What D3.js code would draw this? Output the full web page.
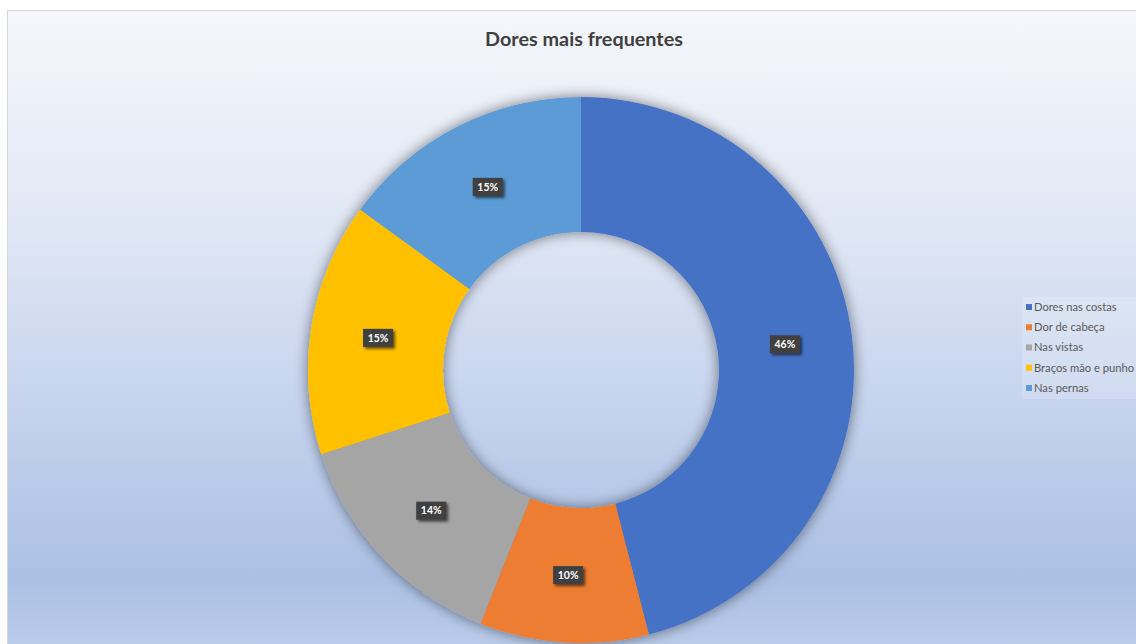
<!DOCTYPE html>
<html>
<head>
<meta charset="utf-8">
<script src="https://cdn.jsdelivr.net/npm/d3@7"></script>
<style>
  html, body { margin: 0; padding: 0; background: #ffffff; }
  svg { display: block; }
</style>
</head>
<body>
<svg id="chart" width="1136" height="644"></svg>
<script>
// Pain categories and their shares (percent)
const categories = ["Dores nas costas", "Dor de cabeça", "Nas vistas", "Braços mão e punho", "Nas pernas"];
const values = [46, 10, 14, 15, 15];
const colors = ["#4472C4", "#ED7D31", "#A5A5A5", "#FFC000", "#5B9BD5"];
const title = "Dores mais frequentes";

const W = 1136, H = 644;
const svg = d3.select("#chart");
const defs = svg.append("defs");

// Chart area background gradient
const grad = defs.append("linearGradient")
  .attr("id", "bg").attr("x1", 0).attr("y1", 0).attr("x2", 0).attr("y2", 1);
[[0, "#f5f7fc"], [0.35, "#dfe6f4"], [0.6, "#c6d4ee"], [0.88, "#abc0e4"], [1, "#bccdeb"]]
  .forEach(([o, c]) => grad.append("stop").attr("offset", o).attr("stop-color", c));

// Soft shadow around the ring
const shadow = defs.append("filter").attr("id", "ringShadow")
  .attr("x", "-20%").attr("y", "-20%").attr("width", "140%").attr("height", "140%");
shadow.append("feGaussianBlur").attr("in", "SourceAlpha").attr("stdDeviation", 7).attr("result", "b");
shadow.append("feOffset").attr("in", "b").attr("dx", 0).attr("dy", 0).attr("result", "o");
shadow.append("feComponentTransfer").attr("in", "o").attr("result", "s")
  .append("feFuncA").attr("type", "linear").attr("slope", 0.5);
const sm = shadow.append("feMerge");
sm.append("feMergeNode").attr("in", "s");
sm.append("feMergeNode").attr("in", "SourceGraphic");

// Shadow for the value label boxes
const lblShadow = defs.append("filter").attr("id", "lblShadow")
  .attr("x", "-50%").attr("y", "-50%").attr("width", "200%").attr("height", "200%");
lblShadow.append("feGaussianBlur").attr("in", "SourceAlpha").attr("stdDeviation", 1.8).attr("result", "b");
lblShadow.append("feOffset").attr("in", "b").attr("dx", 1.5).attr("dy", 1.5).attr("result", "o");
lblShadow.append("feComponentTransfer").attr("in", "o").attr("result", "s")
  .append("feFuncA").attr("type", "linear").attr("slope", 0.6);
const lm = lblShadow.append("feMerge");
lm.append("feMergeNode").attr("in", "s");
lm.append("feMergeNode").attr("in", "SourceGraphic");

// Chart area
svg.append("rect")
  .attr("x", 7.5).attr("y", 10.5).attr("width", W).attr("height", H)
  .attr("fill", "url(#bg)").attr("stroke", "#d4d6da").attr("stroke-width", 1);

// Title
svg.append("text")
  .attr("x", 584).attr("y", 46)
  .attr("text-anchor", "middle")
  .attr("font-family", "Lato, 'Open Sans', sans-serif")
  .attr("font-weight", 700)
  .attr("font-size", 19.8)
  .attr("fill", "#404040")
  .text(title);

// Donut
const cx = 581, cy = 370, rOuter = 273, rInner = 138;
const pie = d3.pie().sort(null).value(d => d)(values);
const arc = d3.arc().innerRadius(rInner).outerRadius(rOuter);

const g = svg.append("g").attr("transform", `translate(${cx},${cy})`);
g.append("g").attr("filter", "url(#ringShadow)")
  .selectAll("path").data(pie).join("path")
  .attr("d", arc)
  .attr("fill", (d, i) => colors[i]);

// Value labels
const pct = d3.format(".0%");
const labels = g.selectAll("g.lbl").data(pie).join("g")
  .attr("class", "lbl")
  .attr("transform", d => `translate(${arc.centroid(d)})`);
labels.append("rect")
  .attr("x", -15).attr("y", -9).attr("width", 30).attr("height", 18)
  .attr("fill", "#404040")
  .attr("filter", "url(#lblShadow)");
labels.append("text")
  .attr("text-anchor", "middle")
  .attr("dy", "0.36em")
  .attr("font-family", "Lato, 'Open Sans', sans-serif")
  .attr("font-weight", 700)
  .attr("font-size", 10.5)
  .attr("fill", "#ffffff")
  .text(d => pct(d.data / d3.sum(values)));

// Legend
const legend = svg.append("g").attr("transform", "translate(1022,297)");
legend.append("rect")
  .attr("x", 0).attr("y", 0).attr("width", 120).attr("height", 102)
  .attr("fill", "#ffffff").attr("fill-opacity", 0.18);
const ly = d3.scalePoint().domain(categories).range([10, 91]);
const items = legend.selectAll("g.item").data(categories).join("g")
  .attr("class", "item")
  .attr("transform", d => `translate(0,${ly(d)})`);
items.append("rect")
  .attr("x", 4).attr("y", -3).attr("width", 6).attr("height", 6)
  .attr("fill", (d, i) => colors[i]);
items.append("text")
  .attr("x", 12).attr("dy", "0.35em")
  .attr("font-family", "Lato, 'Open Sans', sans-serif")
  .attr("font-size", 11.2)
  .attr("fill", "#595959")
  .text(d => d);
</script>
</body>
</html>
